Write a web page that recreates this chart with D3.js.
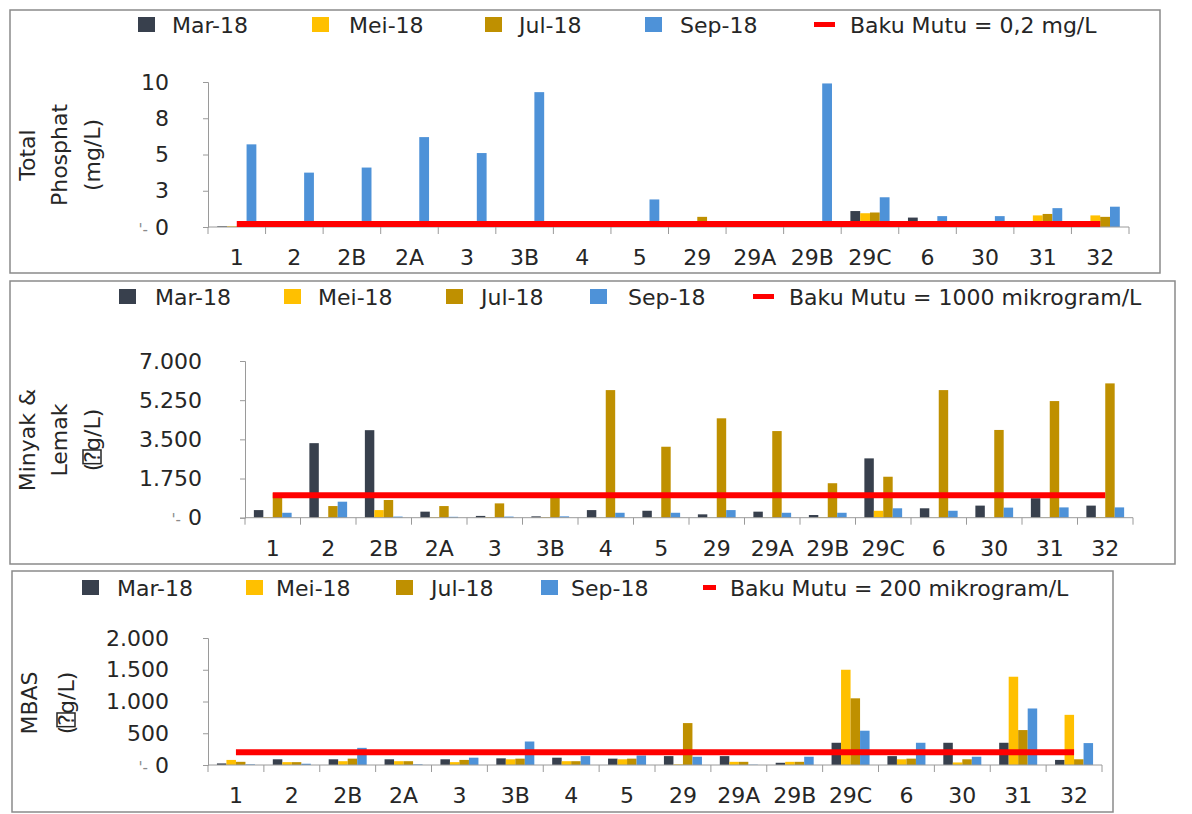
<!DOCTYPE html>
<html>
<head>
<meta charset="utf-8">
<script src="https://cdn.jsdelivr.net/npm/d3@7"></script>
<style>
  body { margin: 0; background: #fff; }
  svg text { font-family: "DejaVu Sans", sans-serif; fill: #262626; }
</style>
</head>
<body>
<div id="chart"></div>
<script>
// station categories (x axis)
var categories = ["1", "2", "2B", "2A", "3", "3B", "4", "5", "29", "29A", "29B", "29C", "6", "30", "31", "32"];
var seriesNames = ["Mar-18", "Mei-18", "Jul-18", "Sep-18"];

// Total Phosphat (mg/L)
var phosMar = [0.05, 0.05, 0.05, 0.05, 0.05, 0.05, 0.05, 0.1, 0.1, 0.05, 0.05, 1.1, 0.65, 0.1, 0.15, 0.3];
var phosMei = [0.05, 0.05, 0.05, 0.05, 0.05, 0.05, 0.1, 0.1, 0.2, 0.05, 0.05, 0.95, 0.15, 0.3, 0.8, 0.8];
var phosJul = [0.05, 0.05, 0.05, 0.05, 0.05, 0.05, 0.3, 0.2, 0.7, 0.1, 0.05, 1.0, 0.2, 0.3, 0.9, 0.7];
var phosSep = [5.7, 3.75, 4.1, 6.2, 5.1, 9.3, 0.35, 1.9, 0.2, 0.15, 9.9, 2.05, 0.75, 0.75, 1.3, 1.4];
var phosBaku = 0.2;
var phosTicks = [0, 2.5, 5, 7.5, 10];

// Minyak & Lemak (ug/L)
var lemakMar = [340, 3330, 3910, 270, 80, 60, 340, 310, 150, 270, 120, 2650, 420, 540, 870, 540];
var lemakMei = [30, 30, 340, 30, 30, 30, 10, 10, 10, 10, 30, 310, 10, 10, 10, 30];
var lemakJul = [1100, 520, 790, 520, 640, 1000, 5700, 3170, 4440, 3870, 1540, 1830, 5700, 3920, 5210, 6000];
var lemakSep = [220, 715, 50, 40, 50, 60, 220, 220, 340, 220, 220, 420, 310, 450, 460, 460];
var lemakBaku = 1000;
var lemakTicks = [0, 1750, 3500, 5250, 7000];

// MBAS (ug/L)
var mbasMar = [25, 90, 90, 90, 90, 105, 115, 100, 140, 140, 35, 350, 140, 350, 350, 80];
var mbasMei = [80, 45, 60, 60, 45, 90, 60, 90, 10, 50, 50, 1500, 90, 40, 1390, 790];
var mbasJul = [50, 45, 100, 60, 80, 100, 60, 100, 660, 50, 50, 1050, 100, 90, 550, 90];
var mbasSep = [10, 20, 270, 10, 115, 370, 140, 150, 130, 5, 130, 540, 350, 130, 890, 345];
var mbasBaku = 200;
var mbasTicks = [0, 500, 1000, 1500, 2000];

var colors = { "Mar-18": "#38404d", "Mei-18": "#ffc000", "Jul-18": "#bf9000", "Sep-18": "#4e92d8" };
var red = "#ff0000";
var fontSize = "22px";

var svg = d3.select("#chart").append("svg")
    .attr("width", 1192)
    .attr("height", 814);

var idFmt = d3.formatLocale({ decimal: ",", thousands: ".", grouping: [3], currency: ["", ""] }).format(",d");

function drawPanel(cfg) {
    var g = svg.append("g");

    // frame
    g.append("rect")
        .attr("x", cfg.box[0]).attr("y", cfg.box[1])
        .attr("width", cfg.box[2] - cfg.box[0]).attr("height", cfg.box[3] - cfg.box[1])
        .attr("fill", "none").attr("stroke", "#8a8a8a").attr("stroke-width", 1.5);

    var x = d3.scaleBand().domain(categories).range(cfg.xRange);
    var xs = d3.scaleBand().domain(seriesNames).range([0, x.bandwidth()])
        .paddingInner(0).paddingOuter(0.94);
    var y = d3.scaleLinear().domain([0, cfg.yTicks[cfg.yTicks.length - 1]]).range(cfg.yRange);

    // y axis
    var yAxis = g.append("g")
        .attr("transform", "translate(" + cfg.xRange[0] + ",0)")
        .call(d3.axisLeft(y).tickValues(cfg.yTicks).tickSize(5).tickPadding(cfg.yPad).tickFormat(cfg.fmt));
    yAxis.select(".domain").attr("stroke", "#9a9a9a");
    yAxis.selectAll(".tick line").attr("stroke", "#9a9a9a");
    yAxis.selectAll(".tick text").style("font-size", fontSize).attr("fill", "#262626");
    yAxis.selectAll(".tick text").filter(function (d) { return d === 0; })
        .text(null)
        .call(function (t) {
            t.append("tspan").attr("fill", "#8a8a8a").style("font-size", "15px").text("'-");
            t.append("tspan").text(" 0");
        });

    // bars
    var data = seriesNames.map(function (s, i) { return { name: s, values: cfg.series[i] }; });
    g.selectAll(".grp")
        .data(data)
        .enter()
        .append("g")
        .attr("fill", function (d) { return colors[d.name]; })
        .selectAll("rect")
        .data(function (d) {
            return d.values.map(function (v, j) { return { name: d.name, cat: categories[j], value: v }; });
        })
        .enter()
        .append("rect")
        .attr("x", function (d) { return x(d.cat) + xs(d.name); })
        .attr("width", xs.bandwidth())
        .attr("y", function (d) { return y(d.value); })
        .attr("height", function (d) { return y(0) - y(d.value); });

    // x axis: line, boundary ticks, labels
    var zeroY = y(0);
    g.append("line")
        .attr("x1", cfg.xRange[0]).attr("x2", cfg.xRange[1])
        .attr("y1", zeroY).attr("y2", zeroY)
        .attr("stroke", "#9a9a9a");
    var bounds = categories.map(function (c) { return x(c); }).concat([x.range()[1]]);
    g.selectAll(".bt").data(bounds).enter().append("line")
        .attr("x1", function (d) { return d; }).attr("x2", function (d) { return d; })
        .attr("y1", zeroY).attr("y2", zeroY + 7)
        .attr("stroke", "#9a9a9a");
    g.selectAll(".xl").data(categories).enter().append("text")
        .attr("x", function (d) { return x(d) + x.bandwidth() / 2; })
        .attr("y", zeroY + cfg.xLabelDy)
        .attr("text-anchor", "middle")
        .style("font-size", fontSize)
        .text(function (d) { return d; });

    // baku mutu line
    var line = d3.line()
        .x(function (d) { return x(d) + x.bandwidth() / 2; })
        .y(function () { return y(cfg.baku); });
    g.append("path")
        .datum(categories)
        .attr("d", line)
        .attr("fill", "none")
        .attr("stroke", red)
        .attr("stroke-width", 6);

    // legend
    var leg = g.append("g").attr("transform", "translate(0," + cfg.legendY + ")");
    seriesNames.forEach(function (s, i) {
        var lx = cfg.legendX[i];
        leg.append("rect").attr("x", lx[0]).attr("y", -8).attr("width", 17).attr("height", 15)
            .attr("fill", colors[s]);
        leg.append("text").attr("x", lx[1]).attr("y", 8).style("font-size", fontSize).text(s);
    });
    var rl = cfg.legendX[4];
    leg.append("rect").attr("x", rl[0]).attr("y", -3).attr("width", rl[2]).attr("height", 5).attr("fill", red);
    leg.append("text").attr("x", rl[1]).attr("y", 8).style("font-size", fontSize).text(cfg.bakuLabel);

    // y title
    cfg.yTitle.forEach(function (t) {
        var tg = g.append("g").attr("transform", "translate(" + t.x + "," + cfg.yTitleCy + ") rotate(-90)");
        var txt = tg.append("text").attr("text-anchor", "middle").attr("y", 8).style("font-size", fontSize);
        t.parts.forEach(function (p) { txt.append("tspan").text(p); });
        if (t.boxChar !== undefined) {
            var ext = txt.node().getExtentOfChar(t.boxChar);
            tg.append("rect")
                .attr("x", ext.x - 1).attr("y", ext.y + 3)
                .attr("width", ext.width + 2).attr("height", ext.height - 7)
                .attr("fill", "none").attr("stroke", "#262626").attr("stroke-width", 1.5);
        }
    });
}

drawPanel({
    box: [10, 10, 1160, 273],
    xRange: [208, 1129],
    yRange: [227, 82],
    yTicks: phosTicks,
    yPad: 34,
    fmt: function (d) { return String(Math.round(d)); },
    series: [phosMar, phosMei, phosJul, phosSep],
    baku: phosBaku,
    bakuLabel: "Baku Mutu = 0,2 mg/L",
    legendY: 25,
    legendX: [[138, 172], [312, 349], [485, 519], [645, 680], [814, 850, 21]],
    xLabelDy: 38,
    yTitleCy: 155,
    yTitle: [
        { x: 27, parts: ["Total"] },
        { x: 59, parts: ["Phosphat"] },
        { x: 92, parts: ["(mg/L)"] }
    ]
});

drawPanel({
    box: [10, 281, 1175, 564],
    xRange: [245, 1133],
    yRange: [517.7, 361],
    yTicks: lemakTicks,
    yPad: 38,
    fmt: idFmt,
    series: [lemakMar, lemakMei, lemakJul, lemakSep],
    baku: lemakBaku,
    bakuLabel: "Baku Mutu = 1000 mikrogram/L",
    legendY: 297,
    legendX: [[119, 155], [284, 318], [446, 481], [590, 628], [753, 789, 21]],
    xLabelDy: 38,
    yTitleCy: 440,
    yTitle: [
        { x: 27, parts: ["Minyak &"] },
        { x: 59, parts: ["Lemak"] },
        { x: 92, parts: ["(", "?", "g/L)"], boxChar: 1 }
    ]
});

drawPanel({
    box: [12, 571, 1113, 812],
    xRange: [208, 1102],
    yRange: [765, 638],
    yTicks: mbasTicks,
    yPad: 34,
    fmt: idFmt,
    series: [mbasMar, mbasMei, mbasJul, mbasSep],
    baku: mbasBaku,
    bakuLabel: "Baku Mutu = 200 mikrogram/L",
    legendY: 588,
    legendX: [[82, 117], [246, 276], [396, 431], [541, 571], [703, 730, 13]],
    xLabelDy: 38,
    yTitleCy: 703,
    yTitle: [
        { x: 29, parts: ["MBAS"] },
        { x: 66, parts: ["(", "?", "g/L)"], boxChar: 1 }
    ]
});
</script>
</body>
</html>
